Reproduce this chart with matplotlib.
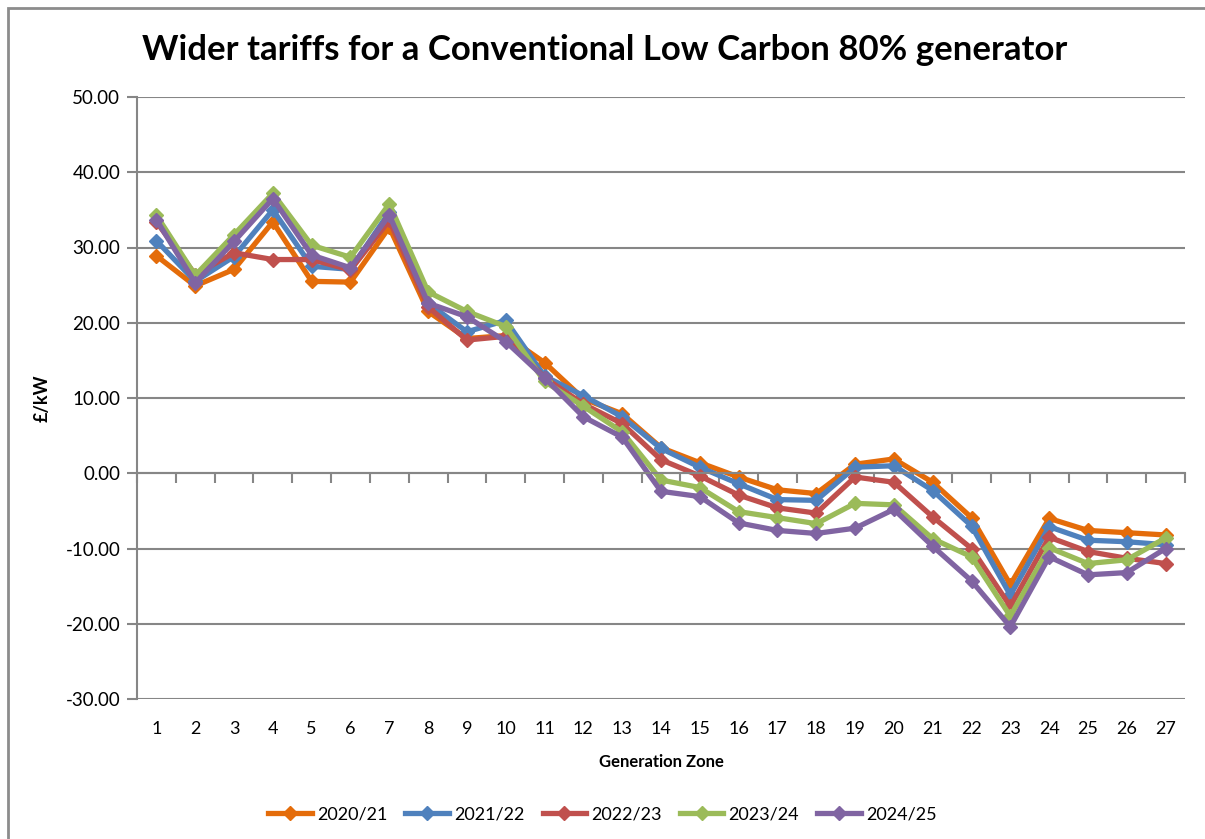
import matplotlib
matplotlib.use('Agg')
import matplotlib.pyplot as plt
from matplotlib.patches import Rectangle
import numpy as np

plt.rcParams['font.family'] = ['Lato', 'DejaVu Sans']
plt.rcParams['axes.unicode_minus'] = False

zones = list(range(1, 28))
years = ['2020/21', '2021/22', '2022/23', '2023/24', '2024/25']
colors = ['#E46C0A', '#4F81BD', '#C0504D', '#9BBB59', '#8064A2']

tariff_2020 = [28.9, 24.9, 27.1, 33.4, 25.5, 25.4, 32.7, 21.5, 17.9, 18.3, 14.7, 9.9, 7.9, 3.4,
               1.4, -0.5, -2.2, -2.7, 1.2, 1.9, -1.2, -5.9, -14.8, -6.0, -7.6, -7.9, -8.2]
tariff_2021 = [30.9, 25.5, 28.8, 35.0, 27.5, 27.1, 34.7, 22.6, 18.8, 20.3, 12.9, 10.3, 7.5, 3.3,
               0.8, -1.4, -3.5, -3.6, 0.8, 1.0, -2.3, -7.0, -16.2, -7.1, -8.9, -9.1, -9.5]
tariff_2022 = [33.4, 26.4, 29.3, 28.4, 28.4, 27.0, 33.6, 22.1, 17.7, 18.2, 12.7, 9.2, 6.6, 1.8,
               -0.35, -2.9, -4.6, -5.3, -0.5, -1.2, -5.8, -10.0, -17.7, -8.5, -10.4, -11.3, -12.0]
tariff_2023 = [34.3, 26.3, 31.7, 37.2, 30.3, 28.7, 35.8, 24.1, 21.5, 19.5, 12.2, 8.9, 5.5, -0.9,
               -1.9, -5.1, -5.9, -6.7, -4.0, -4.2, -8.7, -11.1, -19.0, -9.9, -12.0, -11.5, -8.6]
tariff_2024 = [33.7, 25.3, 30.8, 36.5, 29.0, 27.3, 34.3, 22.6, 20.8, 17.5, 12.7, 7.5, 4.8, -2.4,
               -3.1, -6.6, -7.6, -8.0, -7.3, -4.8, -9.7, -14.3, -20.4, -11.1, -13.5, -13.2, -10.0]
series = [tariff_2020, tariff_2021, tariff_2022, tariff_2023, tariff_2024]

fig = plt.figure(figsize=(12.05, 8.39), dpi=100)
ax = fig.add_axes([137 / 1205, 1 - 699 / 839, 1048 / 1205, 602 / 839])

# outer chart border
fig.patches.append(Rectangle((8 / 1205, -0.05), 1.2, 1 - 8 / 839 + 0.05, transform=fig.transFigure,
                             fill=False, edgecolor='#8c8c8c', linewidth=2))

for vals, name, c in zip(series, years, colors):
    ax.plot(zones, vals, color=c, linewidth=3.8, marker='D', markersize=7, label=name)

ax.set_xlim(0.5, 27.5)
ax.set_ylim(-30, 50)
ax.set_yticks(np.arange(-30, 51, 10))
ax.yaxis.set_major_formatter(matplotlib.ticker.FormatStrFormatter('%.2f'))
ax.grid(axis='y', color='#868686', linewidth=1.5)
ax.set_axisbelow(True)

for s in ['top', 'right']:
    ax.spines[s].set_visible(False)
ax.spines['left'].set_color('#868686')
ax.spines['left'].set_linewidth(1.5)
ax.spines['bottom'].set_position(('data', 0))
ax.spines['bottom'].set_color('#868686')
ax.spines['bottom'].set_linewidth(1.5)
ax.set_xticks(np.arange(0.5, 28, 1))
ax.tick_params(axis='x', length=7, width=1.5, color='#868686', labelbottom=False)
ax.tick_params(axis='y', length=7, width=1.5, color='#868686', labelsize=13.5, pad=5)

sec = ax.secondary_xaxis('bottom')
sec.set_xticks(zones)
sec.tick_params(length=0, labelsize=13, pad=16)
sec.spines['bottom'].set_visible(False)
sec.set_xlabel('Generation Zone', fontsize=12, fontweight='bold', labelpad=12)

ax.set_ylabel('£/kW', fontsize=13, fontweight='bold')
ax.yaxis.set_label_coords(-0.082, 0.5)

fig.text(0.502, 0.94, 'Wider tariffs for a Conventional Low Carbon 80% generator',
         ha='center', va='center', fontsize=25, fontweight='bold')

fig.legend(loc='center', bbox_to_anchor=(0.5, 0.029), ncol=5, frameon=False, fontsize=13,
           handlelength=2.4, columnspacing=1.0, handletextpad=0.3)

fig.savefig('out.png', dpi=100)
